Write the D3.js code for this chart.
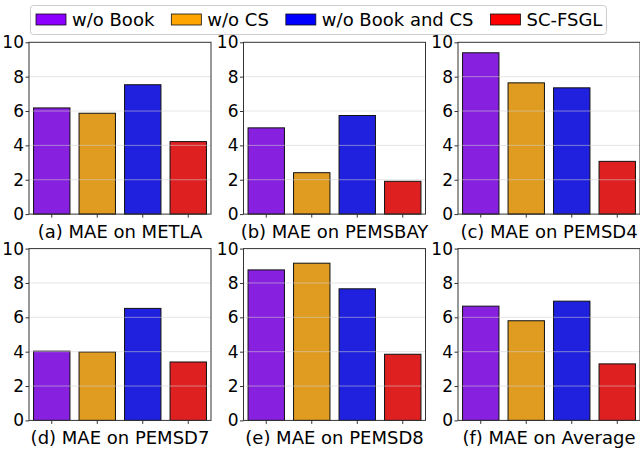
<!DOCTYPE html>
<html>
<head>
<meta charset="utf-8">
<script src="https://cdn.jsdelivr.net/npm/d3@7"></script>
<style>
  body { margin: 0; background: #fff; }
  text { font-family: "DejaVu Sans", sans-serif; fill: #000; }
</style>
</head>
<body>
<div id="chart"></div>
<script>
// data
const datasets = ["METLA", "PEMSBAY", "PEMSD4", "PEMSD7", "PEMSD8", "Average"];
const letters = ["a", "b", "c", "d", "e", "f"];
const variants = ["w/o Book", "w/o CS", "w/o Book and CS", "SC-FSGL"];
const woBook = [6.18, 5.02, 9.39, 4.03, 8.76, 6.65];
const woCS = [5.87, 2.41, 7.64, 3.98, 9.15, 5.80];
const woBookCS = [7.53, 5.74, 7.35, 6.52, 7.66, 6.94];
const scfsgl = [4.22, 1.91, 3.07, 3.40, 3.85, 3.29];
const yTicks = [0, 2, 4, 6, 8, 10];

const series = [woBook, woCS, woBookCS, scfsgl];
const baseColors = ["#8b00ff", "#ffa500", "#0000ff", "#ff0000"];
// bars use a desaturated version of the legend colours
const barColors = baseColors.map(c => { let h = d3.hsl(c); h.s *= 0.75; return h.formatHex(); });

const W = 640, H = 451;
const svg = d3.select("#chart")
  .append("svg")
  .attr("width", W)
  .attr("height", H);

const plotW = 182, plotH = 171.8;
const colX = [29, 243.5, 458];
const rowY = [42.3, 248.6];

const x = d3.scaleBand()
  .domain(variants)
  .range([0, plotW])
  .paddingInner(0.2)
  .paddingOuter(0.1);

const y = d3.scaleLinear()
  .domain([0, 10])
  .range([plotH, 0]);

datasets.forEach((name, i) => {
  const g = svg.append("g")
    .attr("transform", `translate(${colX[i % 3]},${rowY[Math.floor(i / 3)]})`);

  const vals = series.map((s, k) => ({ key: variants[k], v: s[i], k: k }));

  g.selectAll(".bar")
    .data(vals)
    .join("rect")
    .attr("class", "bar")
    .attr("x", d => x(d.key))
    .attr("y", d => y(d.v))
    .attr("width", x.bandwidth())
    .attr("height", d => y(0) - y(d.v))
    .attr("fill", d => barColors[d.k])
    .attr("stroke", "#111")
    .attr("stroke-width", 1);

  // light grid on top of bars
  g.selectAll(".grid")
    .data(yTicks.slice(1, -1))
    .join("line")
    .attr("class", "grid")
    .attr("x1", 0)
    .attr("x2", plotW)
    .attr("y1", d => y(d))
    .attr("y2", d => y(d))
    .attr("stroke", "#d0d0d0")
    .attr("stroke-opacity", 0.55)
    .attr("stroke-width", 1);

  g.append("rect")
    .attr("width", plotW)
    .attr("height", plotH)
    .attr("fill", "none")
    .attr("stroke", "#333")
    .attr("stroke-width", 1);

  const yAxis = g.append("g")
    .call(d3.axisLeft(y).tickValues(yTicks).tickSize(3.5).tickPadding(1.5));
  yAxis.select(".domain").remove();
  yAxis.selectAll("line").attr("stroke", "#333");
  yAxis.selectAll("text")
    .attr("font-size", 17)
    .attr("font-family", "DejaVu Sans")
    .attr("fill", "#000");

  const xAxis = g.append("g")
    .attr("transform", `translate(0,${plotH})`)
    .call(d3.axisBottom(x).tickSize(3.5).tickFormat(""));
  xAxis.select(".domain").remove();
  xAxis.selectAll("line").attr("stroke", "#333");

  g.append("text")
    .attr("x", plotW / 2)
    .attr("y", plotH + 23.5)
    .attr("text-anchor", "middle")
    .attr("font-size", 18)
    .text(`(${letters[i]}) MAE on ${name}`);
});

// legend
const leg = svg.append("g");
const box = leg.append("rect")
  .attr("x", 30.5)
  .attr("y", 5.5)
  .attr("height", 29)
  .attr("rx", 3)
  .attr("fill", "#fff")
  .attr("fill-opacity", 0.9)
  .attr("stroke", "#ccc");

let cx = 36;
variants.forEach((v, k) => {
  leg.append("rect")
    .attr("x", cx)
    .attr("y", 14)
    .attr("width", 30)
    .attr("height", 11)
    .attr("fill", baseColors[k])
    .attr("stroke", "#111")
    .attr("stroke-width", 0.8);
  const t = leg.append("text")
    .attr("x", cx + 36)
    .attr("y", 20)
    .attr("dy", "0.35em")
    .attr("font-size", 18)
    .text(v);
  cx += 36 + t.node().getComputedTextLength() + (k < 3 ? 17 : 4);
});
box.attr("width", cx - 30.5);
</script>
</body>
</html>
